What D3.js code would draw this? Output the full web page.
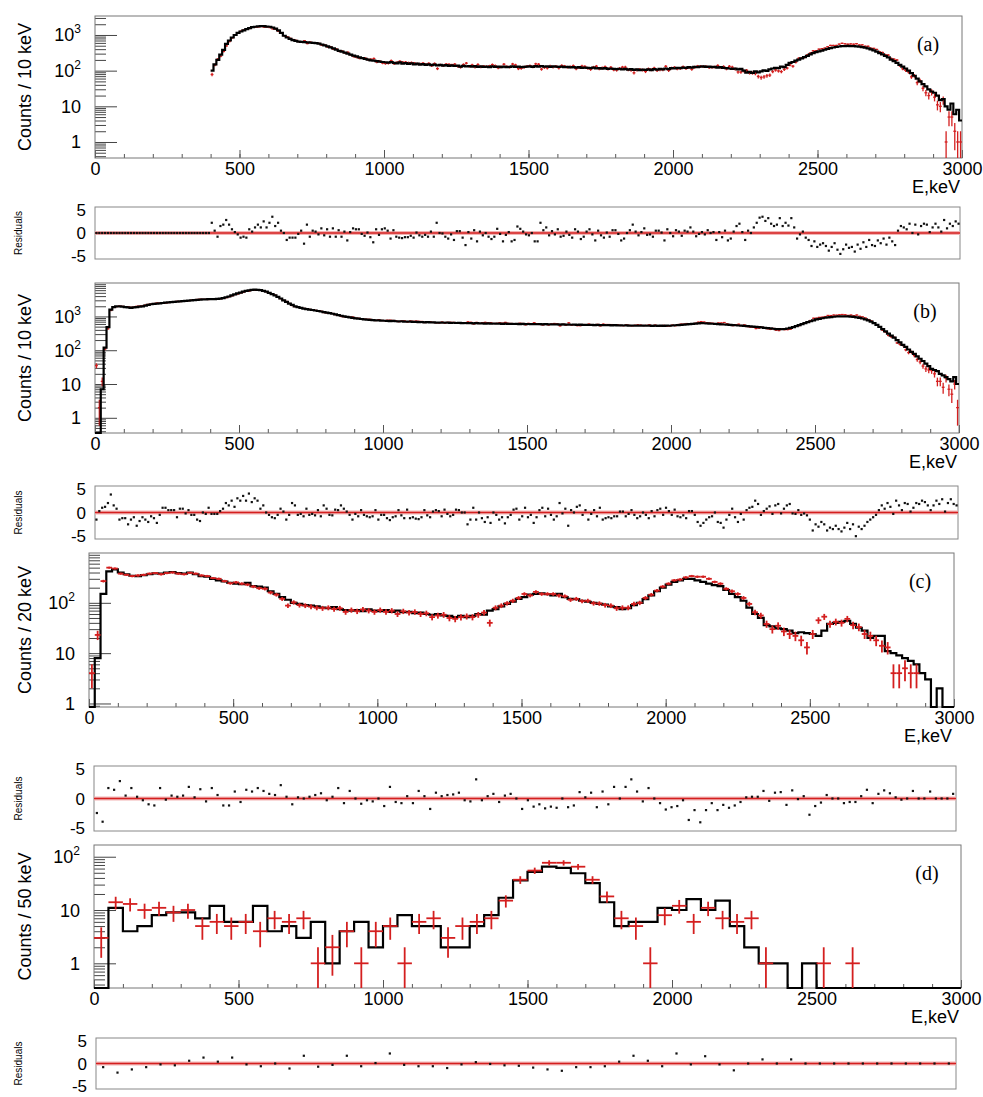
<!DOCTYPE html>
<html><head><meta charset="utf-8">
<script src="https://cdn.jsdelivr.net/npm/d3@7"></script>
<style>
body{margin:0;background:#fff}
svg{display:block}
text{font-family:"Liberation Sans",Arial,Helvetica,sans-serif;fill:#000}
</style>
</head><body>
<svg id="chart" width="983" height="1097"></svg>
<script>
// ---------------- DATA ----------------
const energyTicks = [0, 500, 1000, 1500, 2000, 2500, 3000];
const residualTicks = [5, 0, -5];

// Panel (a): 10 keV bins, 400-3000 keV
const startA = 400, binA = 10;
const mcA = [
100,150,200,280,380,560,700,850,1000,1150,
1250,1350,1450,1550,1650,1700,1750,1780,1760,1720,
1700,1620,1500,1350,1150,950,850,780,720,680,
650,640,630,620,610,600,590,570,540,510,
480,450,420,390,360,340,320,300,280,265,
250,235,225,215,205,195,190,185,180,175,
172,168,175,165,160,170,158,162,155,160,
150,158,148,152,145,150,142,148,140,145,
138,142,136,140,135,138,130,136,132,135,
130,134,128,132,127,130,125,132,128,130,
126,130,125,128,132,127,130,126,128,130,
132,128,134,130,135,130,133,128,132,130,
128,130,126,128,124,126,122,125,120,122,
120,118,122,116,118,114,117,112,115,112,
110,113,108,112,106,110,105,108,104,107,
105,108,104,110,106,112,108,115,110,118,
115,120,118,122,120,125,122,128,125,130,
132,128,130,125,128,122,126,120,118,115,
112,115,108,112,100,88,92,86,95,90,
96,102,98,108,115,120,118,130,125,145,
165,175,190,205,220,240,260,285,310,330,
345,365,385,410,430,445,460,475,485,490,
495,490,485,480,470,455,440,420,395,370,
340,310,285,260,235,205,185,165,145,130,
115,100,85,72,60,50,42,36,30,26,
24,20,15,16,10,8,12,6,8,4];
const dataA = [
78,144,211,255,345,494,652,827,994,1160,
1285,1380,1488,1518,1638,1650,1675,1729,1655,1670,
1610,1480,1442,1270,1133,950,894,808,747,706,
655,627,688,575,630,588,583,577,517,521,
462,467,400,406,349,355,315,328,277,249,
237,223,228,224,204,208,218,174,185,164,
159,162,191,157,170,183,172,173,166,168,
162,157,154,162,150,160,138,158,114,145,
139,152,150,144,152,133,125,148,162,133,
144,127,148,129,133,130,134,147,137,120,
128,151,130,126,153,144,114,116,125,133,
138,128,155,151,110,123,119,134,127,133,
119,139,133,125,128,137,113,122,134,131,
117,109,125,133,113,119,128,111,124,106,
104,115,125,125,106,104,87,105,109,105,
95,112,107,118,101,107,107,132,102,118,
123,113,115,129,115,122,109,125,133,132,
130,131,123,125,126,139,124,130,113,132,
125,112,92,91,98,102,87,86,83,69,
64,67,72,75,94,104,98,94,108,118,
144,133,173,222,224,235,276,310,359,363,
400,413,428,467,509,508,507,553,584,567,
551,561,551,568,524,528,482,481,425,420,
392,338,322,279,273,219,209,198,139,113,
102,92,67,72,46,52,32,24,20,25,
18,11,10,15,1,5,5,2,1,1];
// residuals (a): 10 keV bins, 0-3000 keV
const resA = [
0,0,0,0,0,0,0,0,0,0, 0,0,0,0,0,0,0,0,0,0,
0,0,0,0,0,0,0,0,0,0, 0,0,0,0,0,0,0,0,0,0,
2.2,0.5,-0.8,1.5,1.8,2.8,1.8,0.8,0.2,-0.3,
-1,-0.8,-1,0.8,0.3,1.2,1.8,1.2,2.5,1.2,
2.2,3.5,1.5,2.2,0.5,0,-1.5,-1,-1,-1,
-0.2,0.5,-2.3,1.8,-0.8,0.5,0.3,-0.3,1,-0.5,
0.8,-0.8,1,-0.8,0.6,-0.8,0.3,-1.6,0.2,1,
0.8,0.8,-0.2,-0.6,0.1,-0.9,-2,0.8,-0.4,0.8,
1,0.5,-1.2,0.6,-0.8,-1,-1.1,-0.9,-0.9,-0.6,
-1,0.1,-0.5,-0.8,-0.4,-0.8,0.3,-0.8,2.2,0,
-0.1,-0.8,-1.2,-0.3,-1.5,0.4,0.4,-1,-2.6,0.2,
-1.2,0.6,-1.8,0.3,-0.5,0,-0.8,-1.3,-0.8,0.9,
-0.2,-1.8,-0.4,0.2,-1.8,-1.5,1.4,0.9,0.3,-0.3,
-0.5,0,-1.8,-1.8,2.2,0.6,1.2,-0.5,0.4,-0.3,
0.8,-0.8,-0.6,0.3,-0.4,-1,0.8,0.3,-1.3,-0.8,
0.3,0.8,-0.3,-1.6,0.5,-0.5,-1,0.1,-0.8,0.6,
0.6,-0.2,-1.6,-1.2,0,0.6,1.8,0.3,-0.5,0.2,
1,-0.4,-0.3,-0.8,0.5,0.5,0.1,-1.6,0.8,0,
-0.7,0.6,0.3,-0.6,0.5,0.3,1.2,0.3,-0.7,-0.2,
0.2,-0.3,0.6,0,0.2,-1.5,0.2,-0.9,0.5,-1.6,
-1.2,0.3,1.5,2,0.2,-1.5,0.5,0,1.2,2.2,
3.3,3.5,2.6,3.2,2,1.5,1.8,3.2,1.5,2.2,
1.6,3.2,1.2,-1.2,-0.3,0.3,-1,-1.5,-2.8,-1.8,
-3,-2.5,-2.2,-2.8,-3.8,-3,-2.2,-3.6,-4.5,-3.5,
-2.5,-3.2,-3,-4,-2.5,-3.4,-2,-3,-1.5,-2.6,
-2.8,-1.6,-2.2,-1.2,-2.5,-1,-1.8,-2.6,0.5,1.5,
1.2,0.8,2,0,1.8,-0.3,1.5,2,1.8,0.2,
1.2,2,1.2,0.3,2.8,1,2,1.5,2.5,2];

// Panel (b): 10 keV bins, 0-3000 keV
const startB = 0, binB = 10;
const mcB = [
0,0,7,120,480,1600,1900,2000,2000,1950,
1900,1850,1800,1850,1900,1950,2000,2100,2200,2300,
2350,2400,2450,2500,2550,2600,2650,2700,2750,2800,
2850,2900,2950,3000,3050,3100,3150,3200,3200,3250,
3250,3250,3300,3350,3500,3700,3900,4200,4500,4800,
5100,5400,5700,5900,6100,6200,6100,6000,5700,5400,
5000,4600,4200,3800,3400,3000,2700,2400,2200,2000,
1900,1800,1700,1650,1600,1550,1500,1450,1400,1350,
1300,1250,1200,1150,1100,1050,1000,970,940,910,
880,860,840,820,800,790,780,770,760,750,
745,740,730,735,720,715,720,705,700,705,
690,695,680,685,670,675,665,670,660,655,
660,650,655,645,650,640,645,635,640,630,
635,625,630,620,625,615,620,612,618,610,
612,605,610,600,606,598,602,595,600,592,
598,590,595,588,592,585,590,582,586,580,
584,576,580,572,576,568,572,565,570,562,
566,558,562,555,560,552,556,548,552,545,
550,542,546,540,544,536,540,534,538,532,
536,530,534,528,532,526,532,528,535,530,
540,548,556,565,575,585,595,605,615,625,
632,628,622,615,608,600,592,585,578,570,
562,555,548,540,532,524,516,508,500,492,
482,472,462,452,442,432,424,420,418,425,
440,460,485,515,550,590,630,675,720,770,
815,850,885,915,940,960,980,995,1005,1010,
1010,1000,985,965,940,910,870,820,760,700,
630,560,490,420,360,310,270,235,200,170,
145,125,105,90,78,66,56,48,40,34,
28,26,24,20,18,16,14,12,16,10];
const dataB = [
35,2,12,110,430,1500,1850,1950,2030,1990,
1950,1950,1870,1900,2000,2030,2050,2170,2280,2340,
2410,2510,2480,2450,2500,2570,2620,2670,2800,2760,
2810,2910,2920,3030,3080,3180,3250,3200,3220,3180,
3270,3270,3320,3330,3450,3580,3810,4050,4420,4600,
4920,5150,5520,5600,5930,5980,5920,5950,5600,5400,
5050,4700,4300,3850,3350,2980,2780,2430,2100,1950,
1920,1810,1730,1620,1620,1560,1520,1420,1430,1300,
1270,1270,1220,1130,1080,1000,980,965,955,960,
890,880,830,830,820,820,800,760,800,760,
755,770,775,760,740,705,735,735,690,735,
715,730,715,710,660,690,690,665,650,645,
680,635,665,665,665,625,635,635,640,690,
670,600,665,620,655,665,645,650,618,622,
650,630,665,625,620,585,582,630,620,568,
622,602,650,612,580,561,610,562,598,617,
604,528,585,552,644,556,572,536,534,574,
554,594,569,543,580,528,590,577,576,573,
569,561,541,535,563,543,528,546,565,551,
536,542,562,521,551,514,513,540,512,523,
552,533,576,590,590,615,588,598,627,675,
703,683,654,640,628,600,640,640,660,605,
574,537,572,588,538,560,505,486,476,440,
450,478,455,435,415,438,393,384,422,408,
410,422,490,522,538,602,635,691,760,885,
890,940,950,990,1070,1060,1100,1090,1120,1140,
1120,1075,1100,1055,1100,1010,970,900,810,740,
650,570,478,390,345,275,250,240,165,150,
140,103,85,88,70,53,45,34,28,26,
25,20,12,12,8,15,7,5,10,2];
const resB = [
-1.5,0.3,1,1.2,2,3.8,1.5,0.8,-1.5,-1.2,
-1.2,-2.5,-1.5,-1,-2.8,-1.8,-1,-1.5,-2,-0.8,
-1.2,-2.2,-0.5,1,1,0.5,0.5,0.5,-1,0.8,
0.8,-0.2,0.5,-0.5,-0.5,-1.5,-1.8,0,-0.3,1,
-0.3,-0.3,-0.3,0.3,0.8,2,1.5,2.5,1.2,3,
2.5,3.5,2.5,4,2.2,3,2.5,0.8,1.5,0,
-0.5,-1,-1.2,-0.5,0.8,0.2,-1.5,-0.5,2,1.5,
-0.5,-0.3,-0.8,0.8,-0.5,-0.3,-0.6,0.5,-0.8,1.5,
0.8,-0.5,-0.6,0.6,0.5,1.5,0.8,0.2,-0.5,-1.5,
-0.3,-0.8,0.5,-0.5,-0.8,-1,-0.8,0.5,-1.5,-0.5,
-0.5,-1.2,-1.6,-1,-0.8,0.5,-0.6,-1.2,0.6,-1.2,
-1,-1.3,-1.4,-1,0.5,-0.6,-1,0.2,0.5,0.3,
-0.8,0.6,-0.3,-0.8,-0.5,0.6,0.5,0,0,-2.5,
-1.5,1,-1.5,0,-1.2,-2,-1,-2.2,0,-0.5,
-1.5,-1,-2.3,-1,-0.5,0.6,0.8,-1.5,-0.8,1,
-1,-0.5,-2.2,-1,0.5,1,-0.8,0.8,-0.5,-1.5,
-0.8,2,-0.2,0.8,-2.8,0.5,0,1.2,1.5,-0.5,
0.5,-1.5,-0.3,0.5,-0.8,1,-1.5,-1.2,-1,-1.2,
-0.8,-0.8,0.2,0.2,-0.8,-0.3,0.5,-0.5,-1.2,-0.8,
0,-0.5,-1.2,0.3,-0.8,0.5,0.8,-0.5,1,0.3,
-0.5,0.6,-0.8,-1,-0.6,-1.2,0.3,0.3,-0.5,-2,
-2.8,-2.2,-1.5,-1,-0.8,0,-2,-2.2,-3.2,-1.5,
-0.5,0.8,-1,-2,-0.3,-1.5,0.5,1,1.2,2.5,
1.8,-0.5,0.3,0.8,1.3,-0.3,1.5,1.8,-0.2,0.8,
1.5,1.8,-0.2,-0.3,0.5,-0.5,-0.2,-0.6,-1.5,-3.8,
-2.5,-3,-2,-2.5,-3.8,-3.2,-3.5,-2.8,-3.5,-4,
-3.2,-2.2,-3.5,-2.5,-5,-3,-3.5,-2.8,-2,-1.5,
-1,-0.5,0.5,1.5,0.8,2,1.2,-0.3,2.5,1.5,
0.5,2,1.8,0.2,1,2,1.8,2.5,2.2,1.5,
0.5,1.5,2.5,1.8,2.8,0.2,2,2.8,1.8,1.5];

// Panel (c): 20 keV bins, 0-3000 keV
const startC = 0, binC = 20;
const mcC = [
0,8,150,420,460, 400,370,345,340,355, 370,385,380,400,410, 390,380,400,370,340,
330,300,280,265,250, 240,235,250,215,210, 200,170,150,130,115, 100,95,90,88,85,
80,78,82,75,72, 70,72,68,74,70, 68,72,66,70,65, 66,62,64,60,58,
60,56,55,52,55, 52,55,60,58,70, 75,85,95,105,120, 130,145,150,155,148,
140,150,130,120,118, 110,105,100,95,92, 85,82,75,78,90, 100,118,140,170,200,
230,260,280,300,300, 280,260,240,225,215, 180,150,130,110,80, 60,50,36,34,31,
30,28,25,26,25, 24,22,28,38,40, 42,44,38,32,28, 20,22,22,11,10,
9,8,7,6,4, 3,0,2,0,0];
const dataC = [
4,23,270,500,480, 380,360,340,350,360, 380,390,370,390,400, 380,370,395,380,350,
340,310,300,270,245, 255,240,230,210,195, 190,160,145,120,88, 102,90,88,84,80,
78,80,75,78,66, 72,68,74,70,66, 72,66,70,60,68, 64,66,60,62,52,
56,58,50,48,52, 54,52,58,64,40, 80,88,98,110,125, 150,140,165,150,150,
150,140,135,115,120, 108,110,98,97,90, 88,78,80,80,95, 100,125,145,175,210,
240,280,290,320,340, 330,330,300,260,240, 190,170,150,125,95, 65,56,38,30,35,
27,24,22,18,13, 24,45,53,38,42, 40,48,36,33,24, 22,18,14,13,4,
4,5,4,4,0, 0,0,0,0,0];
const resC = [
-2.5,-4,1.8,1.5,3,0.5,1.8,0.3,-0.3,-1,
-1.2,1.8,-0.2,0.5,0.3,0.5,2,0.2,1.6,-0.5,
1.8,0.6,-1.2,-1.2,1.2,-0.6,1.5,1.2,1.8,1.3,
0.8,0.6,2.3,0.3,-1,0.2,0,0.3,0.6,0.9,
-0.3,0.3,1.8,-0.8,1.3,0,-0.9,-0.3,-0.5,0,
-1.3,2,-0.6,-0.8,0.4,-0.8,1.3,0.4,-1.8,1,
0.4,0.6,0.7,1,-0.3,-0.5,3.3,-0.3,0.4,0.8,
-0.6,0.5,0.8,0,-1.8,-0.3,-1.4,-1,-1.7,-1.4,
-1.6,0,-1.5,-1.2,1.1,0.2,1,-1.5,1.2,-1,
2,0,2,3.3,1.2,-0.5,1.8,0,-0.8,-1.9,
-1.5,-1.3,-0.3,-3.7,-2,-4.1,-2,-0.8,-2,-1.1,
-1.6,-1.2,-0.6,0.2,0.3,0.3,1.3,-0.4,1,1.1,
-1.1,1.4,-0.1,0.4,-2.8,-1.3,-0.7,0.6,0,0,
-0.8,-0.6,-0.6,0.4,1.5,-0.8,0.8,1.4,0.9,0.2,
-0.2,0,1.3,0,0,1.2,0,0,0,0.8];

// Panel (d): 50 keV bins, 0-3000 keV
const startD = 0, binD = 50;
const mcD = [
0,11,4,5,8,9,9,7,12,6,
6,12,4,5,3,6,1,4,6,2,
5,8,5,5,2,2,5,8,17,36,
52,65,62,49,32,14,5,6,6,11,
10,16,10,15,5,2,1,1,0,1,
0,0,0,0,0,0,0,0,0,0];
const dataD = [
3,14,13,10,11,9,10,5,6,5,
6,4,7,6,7,1,2,4,1,4,
5,1,6,7,3,5,6,7,15,37,
55,77,77,65,37,18,7,5,1,8,
12,6,11,7,6,7,1,0,0,0,
1,0,1,0,0,0,0,0,0,0];
const resD = [
-0.8,-2,-1.3,-0.8,-0.2,-0.4,0.6,1.3,0.4,1.3,
-0.2,-0.6,0,-1.1,1.7,-0.7,-0.3,1.7,-0.6,0.1,
2.2,-0.3,-0.6,-0.6,-1,-0.2,0.3,-0.1,-0.4,-0.5,
-0.9,-1.3,-1.6,-0.8,-0.8,-0.6,0.4,1.7,0.6,-0.6,
2.2,-0.2,1.6,-0.2,-1.5,0,0.9,0,0.9,0,
0,0,0,0,0,0,0,0,0,0];

// ---------------- LAYOUT ----------------
const panels = [
  {tag:'(a)', ylab:'Counts / 10 keV', L:95, R:962, T:16,  B:158, lo:-0.449, hi:3.532,
   mc:mcA, data:dataA, start:startA, bin:binA, redTop:false,
   res:{L:95, R:960, T:207, B:259, vals:resA, bin:10}},
  {tag:'(b)', ylab:'Counts / 10 keV', L:95, R:959, T:283, B:433, lo:-0.45, hi:3.99,
   mc:mcB, data:dataB, start:startB, bin:binB, redTop:false,
   res:{L:95, R:958, T:486, B:539, vals:resB, bin:10}},
  {tag:'(c)', ylab:'Counts / 20 keV', L:89, R:954, T:553, B:707, lo:-0.07, hi:2.99,
   mc:mcC, data:dataC, start:startC, bin:binC, redTop:true,
   res:{L:94, R:956, T:766, B:831, vals:resC, bin:20}},
  {tag:'(d)', ylab:'Counts / 50 keV', L:94, R:961, T:845, B:988, lo:-0.463, hi:2.22,
   mc:mcD, data:dataD, start:startD, bin:binD, redTop:true,
   res:{L:96, R:956, T:1038, B:1089, vals:resD, bin:50}}
];

const RED = '#d41f1f';
const svg = d3.select('#chart');
const defs = svg.append('defs');

panels.forEach((p, k) => {
  const x = d3.scaleLinear().domain([0, 3000]).range([p.L, p.R]);
  const y = d3.scaleLog().domain([Math.pow(10, p.lo), Math.pow(10, p.hi)]).range([p.B, p.T]).clamp(true);
  const g = svg.append('g');

  defs.append('clipPath').attr('id', 'clip' + k)
    .append('rect').attr('x', p.L).attr('y', p.T - 1).attr('width', p.R - p.L).attr('height', p.B - p.T + 2);

  // x axis ticks
  g.append('g').attr('transform', `translate(0,${p.B})`)
    .call(d3.axisBottom(x).tickValues(d3.range(0, 3001, 100)).tickSize(-4).tickFormat(''))
    .call(a => a.select('.domain').remove())
    .call(a => a.selectAll('line').attr('stroke', '#555'));
  g.append('g').attr('transform', `translate(0,${p.B})`)
    .call(d3.axisBottom(x).tickValues(energyTicks).tickSize(-8).tickPadding(6).tickFormat(d3.format('d')))
    .call(a => a.select('.domain').remove())
    .call(a => a.selectAll('line').attr('stroke', '#555'))
    .call(a => a.selectAll('text').attr('font-size', 18).attr('font-family', '"Liberation Sans",Arial,sans-serif').attr('dy', '0.62em'));

  // y axis ticks (log)
  const lo = Math.pow(10, p.lo), hi = Math.pow(10, p.hi);
  const majors = [], minors = [];
  for (let e = -1; e <= 4; e++) {
    for (let m = 1; m <= 9; m++) {
      const v = m * Math.pow(10, e);
      if (v >= lo && v <= hi) (m === 1 ? majors : minors).push(v);
    }
  }
  g.append('g').attr('transform', `translate(${p.L},0)`)
    .call(d3.axisLeft(y).tickValues(minors).tickSize(-11).tickFormat(''))
    .call(a => a.select('.domain').remove())
    .call(a => a.selectAll('line').attr('stroke', '#444'));
  g.append('g').attr('transform', `translate(${p.L},0)`)
    .call(d3.axisLeft(y).tickValues(majors).tickSize(-22).tickFormat(''))
    .call(a => a.select('.domain').remove())
    .call(a => a.selectAll('line').attr('stroke', '#444'));
  majors.forEach(v => {
    const e = Math.round(Math.log10(v));
    const t = g.append('text').attr('x', p.L - 14).attr('y', y(v) + 6.5)
      .attr('text-anchor', 'end').attr('font-size', 18);
    if (e <= 1) t.text(String(v));
    else {
      t.append('tspan').text('10');
      t.append('tspan').attr('font-size', 12).attr('dy', -8).text(String(e));
    }
  });

  // frame
  g.append('rect').attr('x', p.L).attr('y', p.T).attr('width', p.R - p.L).attr('height', p.B - p.T)
    .attr('fill', 'none').attr('stroke', '#777').attr('stroke-width', 1);

  // histogram (MC)
  const clipG = g.append('g').attr('clip-path', `url(#clip${k})`);
  const low = Math.pow(10, p.lo - 1);
  let d = '';
  p.mc.forEach((v, i) => {
    const x0 = x(p.start + i * p.bin), x1 = x(p.start + (i + 1) * p.bin);
    const yy = y(v > 0 ? v : low);
    d += (i === 0 ? `M${x0},${yy}` : `V${yy}`) + `H${x1}`;
  });
  const drawHist = () => clipG.append('path').attr('d', d).attr('fill', 'none')
    .attr('stroke', '#000').attr('stroke-width', 2.2).attr('stroke-linejoin', 'miter');
  const drawData = () => {
    const dg = clipG.append('g').attr('stroke', RED).attr('stroke-width', p.redTop ? 1.8 : 1.3);
    p.data.forEach((v, i) => {
      if (v <= 0) return;
      const c = p.start + (i + 0.5) * p.bin, e = Math.sqrt(v);
      dg.append('line').attr('x1', x(p.start + i * p.bin)).attr('x2', x(p.start + (i + 1) * p.bin))
        .attr('y1', y(v)).attr('y2', y(v));
      dg.append('line').attr('x1', x(c)).attr('x2', x(c))
        .attr('y1', y(v + e)).attr('y2', y(v - e > 0 ? v - e : low));
    });
  };
  if (p.redTop) { drawHist(); drawData(); } else { drawData(); drawHist(); }

  // labels
  g.append('text').attr('x', p.R - 2).attr('y', p.B + 35).attr('text-anchor', 'end')
    .attr('font-size', 18).text('E,keV');
  g.append('text').attr('transform', `translate(31,${(p.T + p.B) / 2}) rotate(-90)`)
    .attr('text-anchor', 'middle').attr('font-size', 18).text(p.ylab);
  g.append('text').attr('x', p.R - 34).attr('y', p.T + 35).attr('text-anchor', 'middle')
    .attr('font-size', 20)
    .style('font-family', '"Liberation Serif","Times New Roman",serif').text(p.tag);

  // residual panel
  const r = p.res;
  const xr = d3.scaleLinear().domain([0, 3000]).range([r.L, r.R]);
  const yr = d3.scaleLinear().domain([-5.6, 5.6]).range([r.B, r.T]);
  const rg = svg.append('g');
  rg.append('rect').attr('x', r.L).attr('y', r.T).attr('width', r.R - r.L).attr('height', r.B - r.T)
    .attr('fill', 'none').attr('stroke', '#888').attr('stroke-width', 1);
  rg.append('line').attr('x1', r.L).attr('x2', r.R).attr('y1', yr(0)).attr('y2', yr(0))
    .attr('stroke', '#f2b4b4').attr('stroke-width', 4);
  rg.append('line').attr('x1', r.L).attr('x2', r.R).attr('y1', yr(0)).attr('y2', yr(0))
    .attr('stroke', RED).attr('stroke-width', 1.6);
  rg.selectAll('rect.pt').data(r.vals).enter().append('rect').attr('class', 'pt')
    .attr('x', (v, i) => xr((i + 0.5) * r.bin) - 1.1).attr('y', v => yr(v) - 1.1)
    .attr('width', 2.2).attr('height', 2.2).attr('fill', '#111');
  residualTicks.forEach(v => {
    rg.append('text').attr('x', r.L - 9).attr('y', yr(v) + 6).attr('text-anchor', 'end')
      .attr('font-size', 17).text(String(v));
  });
  rg.append('text').attr('transform', `translate(22,${(r.T + r.B) / 2}) rotate(-90)`)
    .attr('text-anchor', 'middle').attr('font-size', 10).text('Residuals');
});
</script>
</body></html>
